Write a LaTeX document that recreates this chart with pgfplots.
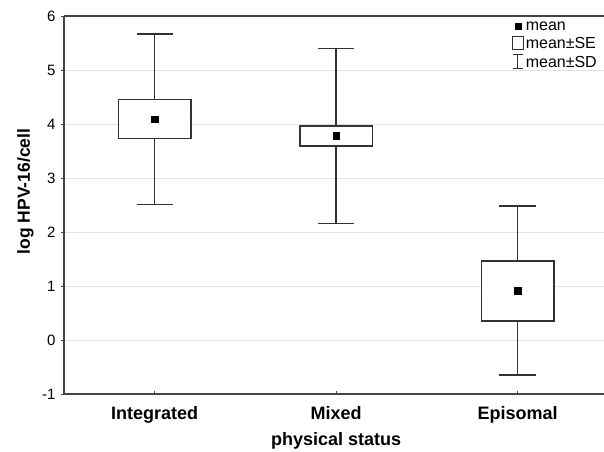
\documentclass[border=0pt]{standalone}
\usepackage{fontspec}
\setmainfont{Liberation Sans}
\usepackage{pgfplots}
\pgfplotsset{compat=1.18}
\usepgfplotslibrary{statistics}
\definecolor{axisgray}{HTML}{444444}
\definecolor{gridgray}{HTML}{E3E3E3}
\definecolor{linegray}{HTML}{333333}
\begin{document}
\begin{tikzpicture}
\useasboundingbox (-64pt,-57pt) rectangle (540pt,394pt);
\begin{axis}[
  at={(0,0)}, anchor=south west,
  scale only axis, width=540pt, height=378pt,
  xmin=-0.5, xmax=2.476, ymin=-1, ymax=6,
  ytick={-1,0,...,6},
  xtick={0,1,2}, xticklabels={Integrated,Mixed,Episomal},
  axis x line=box, axis y line=left,
  xtick pos=bottom, ytick pos=left,
  axis line style={axisgray, line width=1.6pt, -},
  every outer y axis line/.append style={-},
  every inner y axis line/.append style={-},
  ymajorgrids, grid style={gridgray, line width=0.9pt},
  tick style={axisgray, line width=0.9pt},
  major tick length=3pt,
  tick align=outside,
  major x tick style={yshift=3pt},
  /pgf/number format/assume math mode=true,
  yticklabel style={font=\fontsize{15}{17}\selectfont, text=black, xshift=-2pt},
  xticklabel style={font=\fontsize{18}{21}\selectfont\bfseries, text=black, anchor=base, yshift=-22.3pt},
  xlabel={physical status},
  ylabel={log HPV-16/cell},
  xlabel style={font=\fontsize{18}{21}\selectfont\bfseries, at={(axis description cs:0.504,-0.1368)}, anchor=base},
  ylabel style={font=\fontsize{17.5}{21}\selectfont\bfseries, at={(axis description cs:-0.0713,0.536)}, anchor=center},
  boxplot/draw direction=y,
  boxplot/every median/.style={draw=none},
  legend style={draw=none, fill=none, at={(1,1)}, anchor=north east, xshift=-2pt, yshift=-1pt,
    font=\fontsize{16}{18}\selectfont, row sep=1.5pt,
    /tikz/every even column/.append style={column sep=0pt}},
  legend cell align=left,
]
\addplot[boxplot prepared={lower whisker=2.51, lower quartile=3.73, median=4.09, upper quartile=4.45, upper whisker=5.67, draw position=0, box extend=0.4, whisker extend=0.2},
  draw=linegray, fill=white, line width=1.4pt, solid, mark=none, forget plot] coordinates {};
\addplot[boxplot prepared={lower whisker=2.16, lower quartile=3.59, median=3.78, upper quartile=3.96, upper whisker=5.40, draw position=1, box extend=0.4, whisker extend=0.2},
  draw=linegray, fill=white, line width=1.4pt, solid, mark=none, forget plot] coordinates {};
\addplot[boxplot prepared={lower whisker=-0.65, lower quartile=0.35, median=0.91, upper quartile=1.46, upper whisker=2.48, draw position=2, box extend=0.4, whisker extend=0.2},
  draw=linegray, fill=white, line width=1.4pt, solid, mark=none, forget plot] coordinates {};
\addplot[only marks, mark=square*, mark size=3.3pt, black, forget plot] coordinates {(0,4.09) (1,3.78) (2,0.91)};
\addlegendimage{legend image code/.code={\path[draw=none,fill=none] (0pt,-6pt) rectangle (12pt,8pt); \fill[black] (3pt,-2pt) rectangle (9pt,4pt);}}
\addlegendimage{legend image code/.code={\path[draw=none,fill=none] (0pt,-6pt) rectangle (12pt,8pt); \draw[linegray, line width=1pt, fill=white] (0.5pt,-5.5pt) rectangle (11.5pt,7.5pt);}}
\addlegendimage{legend image code/.code={\path[draw=none,fill=none] (0pt,-6pt) rectangle (12pt,8pt); \draw[linegray, line width=1pt] (6pt,-6pt) -- (6pt,8pt) (1pt,8pt) -- (11pt,8pt) (1pt,-6pt) -- (11pt,-6pt);}}
\legend{mean, mean±SE, mean±SD}
\end{axis}
\end{tikzpicture}
\end{document}
